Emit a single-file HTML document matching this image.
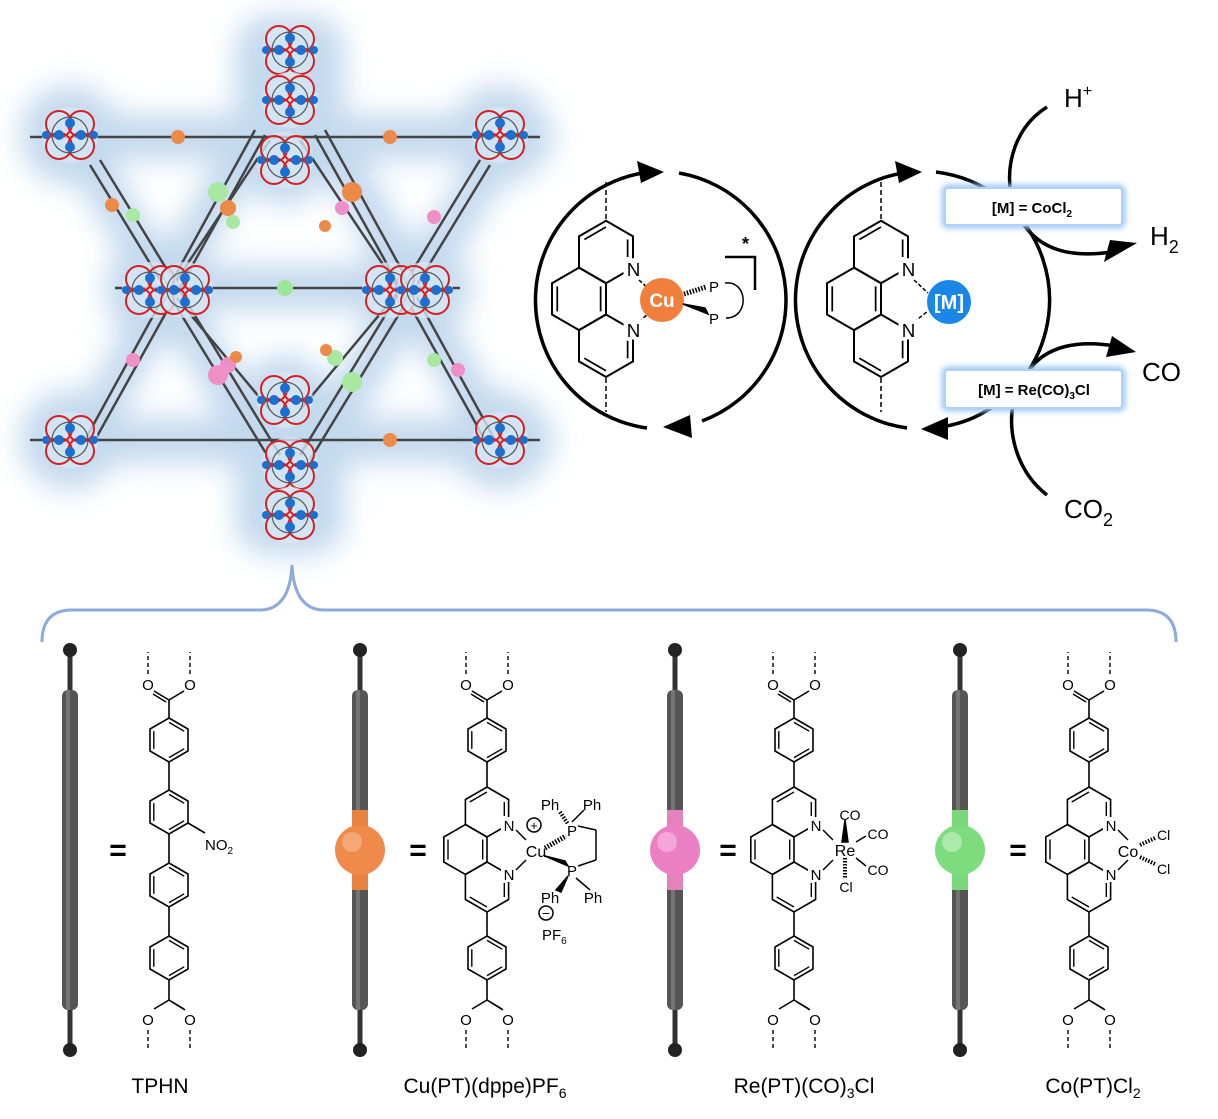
<!DOCTYPE html>
<html><head><meta charset="utf-8"><style>
html,body{margin:0;padding:0;background:#fff;}
svg{display:block;font-family:"Liberation Sans","DejaVu Sans",sans-serif;}
</style></head><body>
<svg width="1218" height="1119" viewBox="0 0 1218 1119" xmlns="http://www.w3.org/2000/svg">
<defs>
<filter id="blur" x="-30%" y="-30%" width="160%" height="160%"><feGaussianBlur stdDeviation="14"/></filter>
<filter id="glow2" x="-20%" y="-50%" width="140%" height="200%"><feGaussianBlur stdDeviation="3"/></filter>
<g id="hx" fill="none" stroke="#000" stroke-width="1.6">
 <polygon points="0,-22 19,-11 19,11 0,22 -19,11 -19,-11"/>
 <line x1="0" y1="-17.6" x2="15.2" y2="-8.8" stroke-width="1.4"/>
 <line x1="15.2" y1="8.8" x2="0" y2="17.6" stroke-width="1.4"/>
 <line x1="-15.2" y1="8.8" x2="-15.2" y2="-8.8" stroke-width="1.4"/>
</g>
<polygon id="hp" points="0,-25 21.6,-12.5 21.6,12.5 0,25 -21.6,12.5 -21.6,-12.5" fill="none" stroke="#000" stroke-width="1.6"/>
<g id="clu">
 <circle r="28" fill="#d6e6f5" opacity="0.8"/>
 <circle cx="-11" cy="-11" r="13" fill="none" stroke="#d42020" stroke-width="2"/>
 <circle cx="11" cy="-11" r="13" fill="none" stroke="#d42020" stroke-width="2"/>
 <circle cx="-11" cy="11" r="13" fill="none" stroke="#d42020" stroke-width="2"/>
 <circle cx="11" cy="11" r="13" fill="none" stroke="#d42020" stroke-width="2"/>
 <circle cx="0" cy="0" r="18" fill="none" stroke="#555" stroke-width="1.2"/>
 <circle cx="-11" cy="0" r="5" fill="#1a6fd0"/><circle cx="11" cy="0" r="5" fill="#1a6fd0"/>
 <circle cx="0" cy="-12" r="5" fill="#1a6fd0"/><circle cx="0" cy="12" r="5" fill="#1a6fd0"/>
 <circle cx="-24" cy="0" r="4" fill="#1a6fd0"/><circle cx="24" cy="0" r="4" fill="#1a6fd0"/>
</g>
<g id="phen">
 <use href="#hp"/><use href="#hp" x="-21.6" y="37.5"/><use href="#hp" y="75"/>
 <g stroke="#000" stroke-width="1.4">
 <line x1="-17.3" y1="-10" x2="0" y2="-20"/>
 <line x1="17.3" y1="-10" x2="17.3" y2="4"/>
 <line x1="-39" y1="27.5" x2="-39" y2="47.5"/>
 <line x1="-4.3" y1="27.5" x2="-4.3" y2="47.5"/>
 <line x1="0" y1="95" x2="-17.3" y2="85"/>
 <line x1="17.3" y1="71" x2="17.3" y2="85"/>
 </g>
 <rect x="14" y="5" width="16" height="16" fill="#fff"/><rect x="14" y="54" width="16" height="16" fill="#fff"/>
 <text x="22" y="19" font-size="15" text-anchor="middle">N</text>
 <text x="22" y="68" font-size="15" text-anchor="middle">N</text>
</g>
<g id="carbT">
 <line x1="0" y1="0" x2="0" y2="18" stroke="#000" stroke-width="1.6"/>
 <line x1="0" y1="0" x2="-15" y2="-9" stroke="#000" stroke-width="1.6"/>
 <line x1="0" y1="0" x2="15" y2="-9" stroke="#000" stroke-width="1.6"/>
 <line x1="-3" y1="2" x2="-16" y2="-6" stroke="#000" stroke-width="1.4"/>
 <text x="-21" y="-10" font-size="15" text-anchor="middle">O</text>
 <text x="21" y="-10" font-size="15" text-anchor="middle">O</text>
 <line x1="-21" y1="-26" x2="-21" y2="-48" stroke="#000" stroke-width="1.4" stroke-dasharray="4,3"/>
 <line x1="21" y1="-26" x2="21" y2="-48" stroke="#000" stroke-width="1.4" stroke-dasharray="4,3"/>
</g>
<g id="carbB">
 <line x1="0" y1="0" x2="0" y2="-20" stroke="#000" stroke-width="1.6"/>
 <line x1="0" y1="0" x2="-15" y2="9" stroke="#000" stroke-width="1.6"/>
 <line x1="0" y1="0" x2="15" y2="9" stroke="#000" stroke-width="1.6"/>
 <line x1="3" y1="2" x2="16" y2="10" stroke="#000" stroke-width="1.4"/>
 <text x="-21" y="25" font-size="15" text-anchor="middle">O</text>
 <text x="21" y="25" font-size="15" text-anchor="middle">O</text>
 <line x1="-21" y1="30" x2="-21" y2="50" stroke="#000" stroke-width="1.4" stroke-dasharray="4,3"/>
 <line x1="21" y1="30" x2="21" y2="50" stroke="#000" stroke-width="1.4" stroke-dasharray="4,3"/>
</g>
<g id="rod">
 <rect x="-2.5" y="0" width="5" height="400" fill="#333"/>
 <rect x="-8" y="40" width="16" height="320" rx="6" fill="#555"/>
 <rect x="-4" y="40" width="4" height="320" fill="#888" opacity="0.6"/>
 <circle cx="0" cy="0" r="7" fill="#222"/><circle cx="0" cy="400" r="7" fill="#222"/>
</g>
</defs>

<!-- MOF -->
<g filter="url(#blur)" fill="#c3d9ee">
 <rect x="25" y="115" width="530" height="45" rx="22"/>
 <rect x="25" y="418" width="530" height="45" rx="22"/>
 <rect x="110" y="265" width="360" height="45"/>
 <circle cx="70" cy="135" r="50"/><circle cx="500" cy="135" r="50"/>
 <circle cx="70" cy="440" r="50"/><circle cx="500" cy="440" r="50"/>
 <rect x="235" y="15" width="110" height="120" rx="35"/><rect x="235" y="410" width="110" height="145" rx="35"/>
 <circle cx="160" cy="290" r="55"/><circle cx="410" cy="290" r="55"/>
 <circle cx="285" cy="160" r="45"/><circle cx="285" cy="400" r="45"/>
 <polyline points="255,130 85,440" stroke="#c3d9ee" stroke-width="40" fill="none"/>
 <polyline points="90,165 270,460" stroke="#c3d9ee" stroke-width="40" fill="none"/>
 <polyline points="325,130 495,440" stroke="#c3d9ee" stroke-width="40" fill="none"/>
 <polyline points="490,165 310,460" stroke="#c3d9ee" stroke-width="40" fill="none"/>
</g>
<g stroke="#444" stroke-width="2.5">
 <line x1="30" y1="137" x2="540" y2="137"/><line x1="30" y1="440" x2="540" y2="440"/>
 <line x1="115" y1="288" x2="460" y2="288"/>
 <line x1="255" y1="130" x2="85" y2="440"/><line x1="265" y1="135" x2="95" y2="440"/>
 <line x1="90" y1="165" x2="270" y2="460"/><line x1="100" y1="160" x2="280" y2="455"/>
 <line x1="325" y1="130" x2="495" y2="440"/><line x1="315" y1="135" x2="485" y2="440"/>
 <line x1="490" y1="165" x2="310" y2="460"/><line x1="480" y1="160" x2="300" y2="455"/>
 <line x1="270" y1="140" x2="170" y2="290"/><line x1="300" y1="140" x2="400" y2="290"/>
 <line x1="170" y1="290" x2="270" y2="410"/><line x1="400" y1="290" x2="300" y2="410"/>
</g>
<use href="#clu" x="70" y="135"/><use href="#clu" x="500" y="135"/>
<use href="#clu" x="70" y="440"/><use href="#clu" x="500" y="440"/>
<use href="#clu" x="290" y="50"/><use href="#clu" x="290" y="100"/>
<use href="#clu" x="285" y="160"/><use href="#clu" x="285" y="400"/>
<use href="#clu" x="290" y="465"/><use href="#clu" x="290" y="515"/>
<use href="#clu" x="150" y="290"/><use href="#clu" x="185" y="290"/>
<use href="#clu" x="390" y="290"/><use href="#clu" x="425" y="290"/>
<g>
 <circle cx="178" cy="137" r="7" fill="#ec8a4a"/><circle cx="390" cy="137" r="7" fill="#ec8a4a"/>
 <circle cx="390" cy="440" r="7" fill="#ec8a4a"/><circle cx="285" cy="288" r="8" fill="#9ee59a"/>
 <circle cx="112" cy="205" r="7" fill="#ec8a4a"/><circle cx="133" cy="215" r="7" fill="#a8e8a0"/>
 <circle cx="218" cy="192" r="10" fill="#a8e8a0"/><circle cx="228" cy="208" r="8" fill="#ec8a4a"/>
 <circle cx="233" cy="222" r="7" fill="#a8e8a0"/><circle cx="352" cy="192" r="10" fill="#ec8a4a"/>
 <circle cx="342" cy="208" r="7" fill="#ef8fc8"/><circle cx="325" cy="226" r="6" fill="#ec8a4a"/>
 <circle cx="434" cy="217" r="7" fill="#ef8fc8"/><circle cx="133" cy="360" r="7" fill="#ef8fc8"/>
 <circle cx="218" cy="375" r="10" fill="#ef8fc8"/><circle cx="228" cy="365" r="8" fill="#ef8fc8"/>
 <circle cx="335" cy="358" r="8" fill="#a8e8a0"/><circle cx="352" cy="382" r="10" fill="#a8e8a0"/>
 <circle cx="434" cy="360" r="7" fill="#a8e8a0"/><circle cx="458" cy="370" r="7" fill="#ef8fc8"/>
 <circle cx="326" cy="350" r="6" fill="#ec8a4a"/><circle cx="236" cy="357" r="6" fill="#ec8a4a"/>
</g>

<!-- Top right cycles -->
<g fill="none" stroke="#000" stroke-width="3.5">
 <path d="M 647 428 A 129 129 0 0 1 650 172"/>
 <path d="M 679 173 A 129 129 0 0 1 702 421"/>
 <path d="M 907 428 A 129 129 0 0 1 910 172"/>
 <path d="M 936 172 A 129 129 0 0 1 1010 393"/>
 <path d="M 1010 393 C 985 415 965 424 935 428"/>
 <path d="M 1047 107 C 1018 125 1005 160 1011 195"/>
 <path d="M 1022 222 C 1040 250 1070 258 1112 252"/>
 <path d="M 1028 372 C 1045 345 1080 340 1115 346"/>
 <path d="M 1047 495 C 1015 470 1008 430 1013 405"/>
</g>
<g fill="#000">
 <polygon points="664,172 637,161 641,183"/>
 <polygon points="663,427 690,415 692,438"/>
 <polygon points="922,172 895,161 899,183"/>
 <polygon points="921,429 948,417 948,440"/>
 <polygon points="1137,243 1110,240 1104,262"/>
 <polygon points="1136,352 1112,336 1106,357"/>
</g>
<!-- left phen -->
<g stroke="#000" stroke-width="1.5">
 <line x1="606" y1="182" x2="606" y2="220" stroke-dasharray="5,3"/>
 <line x1="606" y1="378" x2="606" y2="412" stroke-dasharray="5,3"/>
 <line x1="639" y1="280" x2="650" y2="290" stroke-dasharray="4,2"/><line x1="639" y1="322" x2="650" y2="312" stroke-dasharray="4,2"/>
</g>
<use href="#phen" transform="translate(606,252) scale(1.25)"/>
<circle cx="662" cy="300" r="22" fill="#f07f3e"/>
<text x="662" y="307" font-size="19" fill="#fff" font-weight="bold" text-anchor="middle">Cu</text>
<g stroke="#000" stroke-width="1.5" fill="none">
 <line x1="684" y1="294" x2="706" y2="287" stroke-dasharray="1.5,1.5" stroke-width="5"/>
 <polygon points="683,304 708,314 705,308" fill="#000"/>
 <path d="M 725 283 C 748 280 750 318 726 318"/>
 <path d="M 725 257 L 755 257 L 755 290" stroke-width="2.5"/>
</g>
<text x="709" y="292" font-size="15">P</text><text x="709" y="324" font-size="15">P</text>
<text x="742" y="250" font-size="18" font-weight="bold">*</text>
<!-- right phen -->
<g stroke="#000" stroke-width="1.5">
 <line x1="881" y1="182" x2="881" y2="220" stroke-dasharray="5,3"/>
 <line x1="881" y1="378" x2="881" y2="412" stroke-dasharray="5,3"/>
 <line x1="914" y1="280" x2="928" y2="293" stroke-dasharray="4,2"/><line x1="914" y1="322" x2="928" y2="311" stroke-dasharray="4,2"/>
</g>
<use href="#phen" transform="translate(881,252) scale(1.25)"/>
<circle cx="949" cy="302" r="22" fill="#1a86e8"/>
<text x="949" y="309" font-size="20" fill="#fff" font-weight="bold" text-anchor="middle">[M]</text>
<!-- boxes -->
<rect x="945" y="188" width="177" height="37" rx="3" fill="none" stroke="#9cc8f5" stroke-width="7" filter="url(#glow2)"/>
<rect x="945" y="188" width="177" height="37" rx="3" fill="#fff" stroke="#aed2f7" stroke-width="2"/>
<text x="1032" y="213" font-size="15" font-weight="bold" text-anchor="middle">[M] = CoCl<tspan font-size="10" dy="4">2</tspan></text>
<rect x="945" y="370" width="177" height="38" rx="3" fill="none" stroke="#9cc8f5" stroke-width="7" filter="url(#glow2)"/>
<rect x="945" y="370" width="177" height="38" rx="3" fill="#fff" stroke="#aed2f7" stroke-width="2"/>
<text x="1034" y="395" font-size="15" font-weight="bold" text-anchor="middle">[M] = Re(CO)<tspan font-size="10" dy="4">3</tspan><tspan dy="-4">Cl</tspan></text>
<text x="1064" y="107" font-size="26">H<tspan font-size="16" dy="-11">+</tspan></text>
<text x="1150" y="245" font-size="26">H<tspan font-size="18" dy="8">2</tspan></text>
<text x="1142" y="381" font-size="26">CO</text>
<text x="1064" y="518" font-size="26">CO<tspan font-size="18" dy="8">2</tspan></text>

<!-- brace -->
<path d="M 42 642 Q 42 610 72 610 L 262 610 Q 290 608 292 565 Q 294 608 322 610 L 1146 610 Q 1176 610 1176 642" fill="none" stroke="#8eaadb" stroke-width="3"/>

<!-- rods -->
<use href="#rod" x="70" y="650"/>
<use href="#rod" x="360" y="650"/>
<use href="#rod" x="675" y="650"/>
<use href="#rod" x="960" y="650"/>
<rect x="352" y="810" width="16" height="80" fill="#e8843f"/>
<circle cx="360" cy="850" r="25" fill="#f08a4b"/><circle cx="352" cy="842" r="10" fill="#f7b389" opacity="0.7"/>
<rect x="667" y="810" width="16" height="80" fill="#e582be"/>
<circle cx="675" cy="850" r="25" fill="#ea80c2"/><circle cx="667" cy="842" r="10" fill="#f6b7df" opacity="0.7"/>
<rect x="952" y="810" width="16" height="80" fill="#7bd77b"/>
<circle cx="960" cy="850" r="25" fill="#7ddc7e"/><circle cx="952" cy="842" r="10" fill="#bff0bf" opacity="0.7"/>
<g font-size="30" font-weight="bold" text-anchor="middle">
<text x="118" y="860">=</text><text x="418" y="860">=</text><text x="728" y="860">=</text><text x="1018" y="860">=</text>
</g>

<!-- TPHN -->
<use href="#carbT" x="169" y="700"/>
<use href="#hx" x="169" y="740"/><use href="#hx" x="169" y="812"/>
<use href="#hx" x="169" y="885"/><use href="#hx" x="169" y="958"/>
<g stroke="#000" stroke-width="1.6">
<line x1="169" y1="762" x2="169" y2="790"/><line x1="169" y1="834" x2="169" y2="863"/><line x1="169" y1="907" x2="169" y2="936"/>
<line x1="188" y1="823" x2="205" y2="833"/>
</g>
<use href="#carbB" x="169" y="1000"/>
<text x="205" y="850" font-size="15">NO<tspan font-size="10" dy="4">2</tspan></text>

<!-- Cu -->
<use href="#carbT" x="487" y="700"/>
<use href="#hx" x="487" y="740"/>
<line x1="487" y1="762" x2="487" y2="787" stroke="#000" stroke-width="1.6"/>
<use href="#phen" x="487" y="812"/>
<line x1="487" y1="912" x2="487" y2="936" stroke="#000" stroke-width="1.6"/>
<use href="#hx" x="487" y="958"/>
<use href="#carbB" x="487" y="1000"/>
<g stroke="#000" stroke-width="1.5" fill="none">
<line x1="516" y1="830" x2="526" y2="840"/><line x1="516" y1="870" x2="526" y2="860"/>
<line x1="545" y1="848" x2="566" y2="836" stroke-dasharray="1.5,1.5" stroke-width="5"/>
<polygon points="545,856 568,866 565,861" fill="#000"/>
<line x1="578" y1="826" x2="596" y2="830"/><line x1="596" y1="830" x2="596" y2="860"/><line x1="596" y1="860" x2="578" y2="866"/>
<line x1="560" y1="812" x2="568" y2="824" stroke-dasharray="1.5,1.5" stroke-width="4"/>
<line x1="572" y1="822" x2="584" y2="810"/>
<line x1="576" y1="878" x2="590" y2="890"/>
<polygon points="568,876 556,890 561,892" fill="#000"/>
<circle cx="534" cy="825" r="7"/>
<circle cx="546" cy="913" r="7"/>
</g>
<text x="534" y="830" font-size="13" text-anchor="middle">+</text>
<text x="546" y="918" font-size="14" text-anchor="middle">−</text>
<text x="536" y="857" font-size="16" text-anchor="middle">Cu</text>
<text x="572" y="836" font-size="15" text-anchor="middle">P</text>
<text x="572" y="876" font-size="15" text-anchor="middle">P</text>
<text x="550" y="810" font-size="15" text-anchor="middle">Ph</text>
<text x="592" y="810" font-size="15" text-anchor="middle">Ph</text>
<text x="550" y="903" font-size="15" text-anchor="middle">Ph</text>
<text x="593" y="903" font-size="15" text-anchor="middle">Ph</text>
<text x="542" y="940" font-size="15">PF<tspan font-size="10" dy="4">6</tspan></text>

<!-- Re -->
<use href="#carbT" x="794" y="700"/>
<use href="#hx" x="794" y="740"/>
<line x1="794" y1="762" x2="794" y2="787" stroke="#000" stroke-width="1.6"/>
<use href="#phen" x="794" y="812"/>
<line x1="794" y1="912" x2="794" y2="936" stroke="#000" stroke-width="1.6"/>
<use href="#hx" x="794" y="958"/>
<use href="#carbB" x="794" y="1000"/>
<g stroke="#000" stroke-width="1.5" fill="none">
<line x1="823" y1="830" x2="833" y2="840"/><line x1="823" y1="870" x2="833" y2="860"/>
<polygon points="845,820 842,842 848,842" fill="#000"/>
<line x1="845" y1="858" x2="845" y2="878" stroke-dasharray="1.5,1.5" stroke-width="4"/>
<line x1="856" y1="842" x2="866" y2="836"/>
<line x1="856" y1="858" x2="866" y2="866"/>
</g>
<text x="845" y="856" font-size="16" text-anchor="middle">Re</text>
<text x="850" y="820" font-size="14" text-anchor="middle">CO</text>
<text x="878" y="839" font-size="14" text-anchor="middle">CO</text>
<text x="878" y="875" font-size="14" text-anchor="middle">CO</text>
<text x="846" y="892" font-size="14" text-anchor="middle">Cl</text>

<!-- Co -->
<use href="#carbT" x="1089" y="700"/>
<use href="#hx" x="1089" y="740"/>
<line x1="1089" y1="762" x2="1089" y2="787" stroke="#000" stroke-width="1.6"/>
<use href="#phen" x="1089" y="812"/>
<line x1="1089" y1="912" x2="1089" y2="936" stroke="#000" stroke-width="1.6"/>
<use href="#hx" x="1089" y="958"/>
<use href="#carbB" x="1089" y="1000"/>
<g stroke="#000" stroke-width="1.5" fill="none">
<line x1="1118" y1="830" x2="1128" y2="840"/><line x1="1118" y1="870" x2="1128" y2="860"/>
<line x1="1140" y1="845" x2="1155" y2="838" stroke-dasharray="1.5,1.5" stroke-width="4"/>
<line x1="1140" y1="857" x2="1155" y2="864" stroke-dasharray="1.5,1.5" stroke-width="4"/>
</g>
<text x="1128" y="857" font-size="16" text-anchor="middle">Co</text>
<text x="1157" y="840" font-size="14">Cl</text>
<text x="1157" y="874" font-size="14">Cl</text>

<!-- labels -->
<g font-size="21" text-anchor="middle">
<text x="160" y="1093">TPHN</text>
<text x="485" y="1093">Cu(PT)(dppe)PF<tspan font-size="14" dy="5">6</tspan></text>
<text x="804" y="1093">Re(PT)(CO)<tspan font-size="14" dy="5">3</tspan><tspan dy="-5">Cl</tspan></text>
<text x="1093" y="1093">Co(PT)Cl<tspan font-size="14" dy="5">2</tspan></text>
</g>
</svg>
</body></html>
